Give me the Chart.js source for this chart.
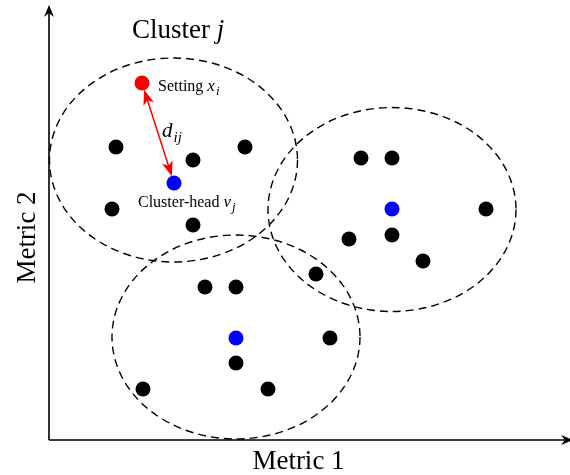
<!DOCTYPE html>
<html>
<head>
<meta charset="utf-8">
<script src="https://cdn.jsdelivr.net/npm/chart.js@4/dist/chart.umd.min.js"></script>
<style>
  html, body { margin: 0; padding: 0; background: #fff; }
  #wrap { width: 570px; height: 475px; }
</style>
</head>
<body>
<div id="wrap"><canvas id="chart" width="570" height="475"></canvas></div>
<script>
// Data (arbitrary metric units)
const settingsX = [67, 144, 196, 63, 144, 312, 343, 437, 300, 343, 374, 267, 156, 187, 281, 187, 94, 219];
const settingsY = [293, 280, 293, 231, 215, 282, 282, 231, 201, 205, 179, 166, 153, 153, 102, 77, 51, 51];
const headsX = [125, 343, 187];
const headsY = [257, 231, 102];
const chosenX = [93];
const chosenY = [357];
// cluster regions: centre and radii
const clusterCx = [124.5, 343, 187];
const clusterCy = [280, 230.5, 103];
const clusterRx = [124, 124, 124];
const clusterRy = [102, 102, 102];

const SERIF = '"Liberation Serif", "DejaVu Serif", serif';

const toPoints = (xs, ys) => xs.map((x, i) => ({ x, y: ys[i] }));

function drawRich(ctx, x, y, parts) {
  let cx = x;
  parts.forEach(p => {
    ctx.font = p.f;
    ctx.fillText(p.t, cx, y + (p.dy || 0));
    cx += ctx.measureText(p.t).width + (p.gap || 0);
  });
}

function drawHead(ctx, tx, ty, ux, uy, len = 12, half = 5, notch = 8) {
  // ux,uy: unit vector pointing toward the tip
  const bx = tx - ux * len, by = ty - uy * len;
  const nx = tx - ux * notch, ny = ty - uy * notch;
  ctx.beginPath();
  ctx.moveTo(tx, ty);
  ctx.lineTo(bx - uy * half, by + ux * half);
  ctx.lineTo(nx, ny);
  ctx.lineTo(bx + uy * half, by - ux * half);
  ctx.closePath();
  ctx.fill();
}

const clusterPlugin = {
  id: 'clusters',
  beforeDatasetsDraw(chart) {
    const { ctx, scales: { x, y } } = chart;
    ctx.save();
    ctx.strokeStyle = '#000';
    ctx.lineWidth = 1.4;
    ctx.setLineDash([8, 5]);
    clusterCx.forEach((c, i) => {
      const px = x.getPixelForValue(c);
      const py = y.getPixelForValue(clusterCy[i]);
      const rx = x.getPixelForValue(c + clusterRx[i]) - px;
      const ry = py - y.getPixelForValue(clusterCy[i] + clusterRy[i]);
      ctx.beginPath();
      ctx.ellipse(px, py, rx, ry, 0, 0, Math.PI * 2);
      ctx.stroke();
    });
    ctx.restore();

    // axes with arrows
    const a = chart.chartArea;
    ctx.save();
    ctx.strokeStyle = '#000';
    ctx.fillStyle = '#000';
    ctx.lineWidth = 1.6;
    ctx.beginPath();
    ctx.moveTo(a.left, a.bottom);
    ctx.lineTo(a.left, a.top + 4);
    ctx.moveTo(a.left, a.bottom);
    ctx.lineTo(a.right, a.bottom);
    ctx.stroke();
    drawHead(ctx, a.left, a.top, 0, -1);
    drawHead(ctx, a.right + 3, a.bottom, 1, 0);
    ctx.restore();
  },
  afterDatasetsDraw(chart) {
    const { ctx, scales: { x, y } } = chart;
    const rx = x.getPixelForValue(chosenX[0]), ry = y.getPixelForValue(chosenY[0]);
    const bx = x.getPixelForValue(headsX[0]), by = y.getPixelForValue(headsY[0]);
    const dx = bx - rx, dy = by - ry, d = Math.hypot(dx, dy);
    const ux = dx / d, uy = dy / d;
    const t1x = rx + ux * 7, t1y = ry + uy * 7;
    const t2x = bx - ux * 7, t2y = by - uy * 7;

    ctx.save();
    ctx.strokeStyle = '#ff0000';
    ctx.fillStyle = '#ff0000';
    ctx.lineWidth = 1.5;
    ctx.beginPath();
    ctx.moveTo(t1x + ux * 10, t1y + uy * 10);
    ctx.lineTo(t2x - ux * 10, t2y - uy * 10);
    ctx.stroke();
    drawHead(ctx, t1x, t1y, -ux, -uy, 15, 5.5, 11);
    drawHead(ctx, t2x, t2y, ux, uy, 15, 5.5, 11);
    ctx.restore();

    // labels
    ctx.save();
    ctx.fillStyle = '#000';
    ctx.textBaseline = 'alphabetic';
    ctx.textAlign = 'left';
    drawRich(ctx, rx + 16, ry + 8, [
      { t: 'Setting ', f: `16px ${SERIF}` },
      { t: 'x', f: `italic 17px ${SERIF}`, gap: 1 },
      { t: 'i', f: `italic 13px ${SERIF}`, dy: 4 }
    ]);
    drawRich(ctx, bx - 36, by + 24, [
      { t: 'Cluster-head ', f: `16px ${SERIF}` },
      { t: 'v', f: `italic 17px ${SERIF}`, gap: 1 },
      { t: 'j', f: `italic 13px ${SERIF}`, dy: 4 }
    ]);
    drawRich(ctx, (rx + bx) / 2 + 4, (ry + by) / 2 + 4, [
      { t: 'd', f: `italic 21px ${SERIF}`, gap: 1 },
      { t: 'ij', f: `italic 15px ${SERIF}`, dy: 5 }
    ]);
    const cx0 = x.getPixelForValue(clusterCx[0]);
    const cy0 = y.getPixelForValue(clusterCy[0] + clusterRy[0]);
    drawRich(ctx, cx0 - 41.5, cy0 - 20, [
      { t: 'Cluster ', f: `27px ${SERIF}` },
      { t: 'j', f: `italic 27px ${SERIF}` }
    ]);

    const a = chart.chartArea;
    ctx.font = `27px ${SERIF}`;
    ctx.textAlign = 'center';
    ctx.fillText('Metric 1', 298.5, a.bottom + 29);
    ctx.translate(35, 237.5);
    ctx.rotate(-Math.PI / 2);
    ctx.fillText('Metric 2', 0, 0);
    ctx.restore();
  }
};

new Chart(document.getElementById('chart'), {
  type: 'scatter',
  data: {
    datasets: [
      {
        label: 'Settings',
        data: toPoints(settingsX, settingsY),
        backgroundColor: '#000',
        borderWidth: 0,
        pointRadius: 7.5
      },
      {
        label: 'Cluster-heads',
        data: toPoints(headsX, headsY),
        backgroundColor: '#0000ff',
        borderWidth: 0,
        pointRadius: 7.5
      },
      {
        label: 'Setting x_i',
        data: toPoints(chosenX, chosenY),
        backgroundColor: '#ff0000',
        borderWidth: 0,
        pointRadius: 7.5
      }
    ]
  },
  options: {
    responsive: false,
    animation: false,
    devicePixelRatio: 1,
    layout: { autoPadding: false, padding: { left: 49, right: 0, top: 5, bottom: 35 } },
    plugins: { legend: { display: false }, tooltip: { enabled: false } },
    scales: {
      x: { type: 'linear', min: 0, max: 521, display: false },
      y: { type: 'linear', min: 0, max: 435, display: false }
    }
  },
  plugins: [clusterPlugin]
});
</script>
</body>
</html>
